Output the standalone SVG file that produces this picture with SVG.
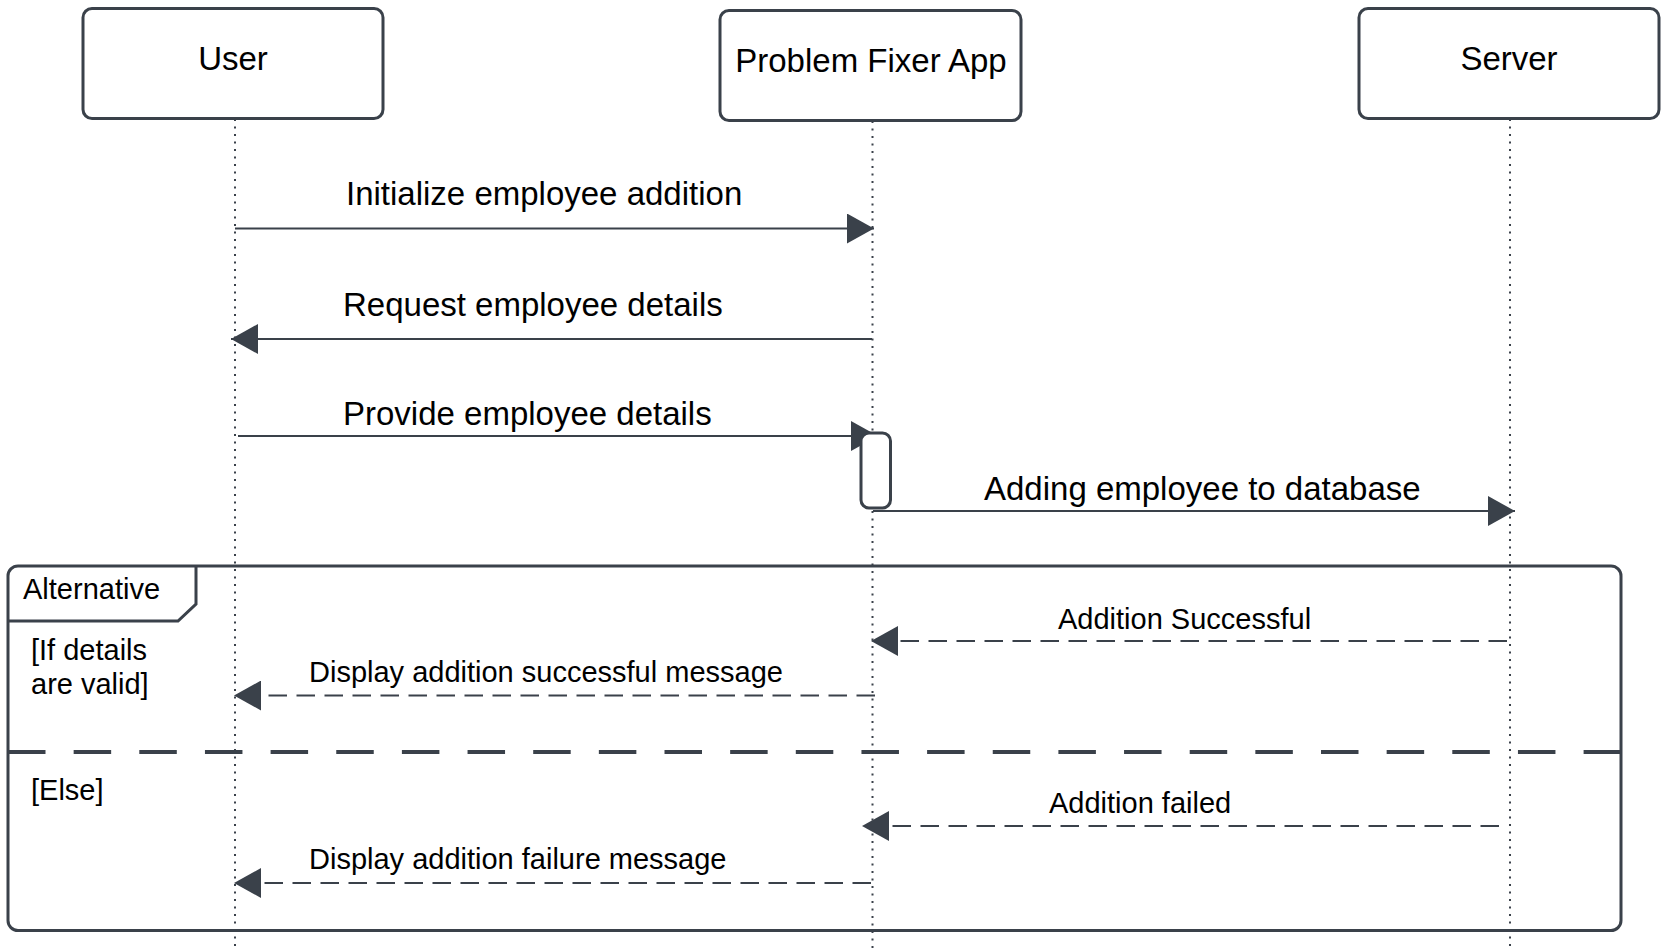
<svg xmlns="http://www.w3.org/2000/svg" width="1667" height="950" viewBox="0 0 1667 950">
<style>
  .box{fill:#ffffff;stroke:#3a414a;stroke-width:3}
  .life{stroke:#3a414a;stroke-width:2;stroke-dasharray:2 5.5;fill:none}
  .msg{stroke:#3a414a;stroke-width:2;fill:none}
  .ret{stroke:#3a414a;stroke-width:2;fill:none;stroke-dasharray:18.5 9.5}
  .frame{fill:none;stroke:#3a414a;stroke-width:3}
  .div{stroke:#3a414a;stroke-width:4;stroke-dasharray:37.5 28.15;fill:none}
  .big{font-family:"Liberation Sans",Arial,sans-serif;font-size:33px;fill:#000000}
  .small{font-family:"Liberation Sans",Arial,sans-serif;font-size:29px;fill:#000000}
</style>
<defs>
  <marker id="arrow" viewBox="0 0 27 30" refX="27" refY="15" markerWidth="27" markerHeight="30" markerUnits="userSpaceOnUse" orient="auto">
    <path d="M0,0 L27,15 L0,30 Z" fill="#3a414a"/>
  </marker>
</defs>
<rect width="1667" height="950" fill="#ffffff"/>

<g id="alt-frame">
  <rect class="frame" x="8" y="566" width="1613" height="364.5" rx="10"/>
  <path class="frame" d="M8,621 L178,621 L196,604 L196,566"/>
  <text class="small" x="23" y="599">Alternative</text>
  <text class="small" x="31" y="660">[If details</text>
  <text class="small" x="31" y="694">are valid]</text>
  <line class="div" x1="8" y1="752" x2="1621" y2="752"/>
  <text class="small" x="31" y="800">[Else]</text>
</g>

<g id="lifelines">
  <line class="life" x1="235" y1="119" x2="235" y2="950"/>
  <line class="life" x1="872.5" y1="121" x2="872.5" y2="950"/>
  <line class="life" x1="1510" y1="119" x2="1510" y2="950"/>
</g>

<g id="node-user">
  <rect class="box" x="83" y="8.5" width="300" height="110" rx="9"/>
  <text class="big" x="233" y="70" text-anchor="middle">User</text>
</g>
<g id="node-app">
  <rect class="box" x="720" y="10.5" width="301" height="110" rx="9"/>
  <text class="big" x="871" y="72" text-anchor="middle">Problem Fixer App</text>
</g>
<g id="node-server">
  <rect class="box" x="1359" y="8.5" width="300" height="110" rx="9"/>
  <text class="big" x="1509" y="70" text-anchor="middle">Server</text>
</g>

<g id="connectors">
  <line class="msg" x1="235" y1="228.5" x2="874" y2="228.5" marker-end="url(#arrow)"/>
  <text class="big" x="346" y="205">Initialize employee addition</text>

  <line class="msg" x1="872" y1="339" x2="231" y2="339" marker-end="url(#arrow)"/>
  <text class="big" x="343" y="316">Request employee details</text>

  <line class="msg" x1="238" y1="436" x2="878" y2="436" marker-end="url(#arrow)"/>
  <text class="big" x="343" y="425">Provide employee details</text>

  <line class="msg" x1="873" y1="511" x2="1515" y2="511" marker-end="url(#arrow)"/>
  <text class="big" x="984" y="500">Adding employee to database</text>

  <line class="ret" x1="1507" y1="641" x2="871" y2="641" marker-end="url(#arrow)"/>
  <text class="small" x="1058" y="629">Addition Successful</text>

  <line class="ret" x1="875" y1="695.5" x2="234" y2="695.5" marker-end="url(#arrow)"/>
  <text class="small" x="309" y="682">Display addition successful message</text>

  <line class="ret" x1="1499" y1="826" x2="862" y2="826" marker-end="url(#arrow)"/>
  <text class="small" x="1049" y="813">Addition failed</text>

  <line class="ret" x1="871" y1="883" x2="234" y2="883" marker-end="url(#arrow)"/>
  <text class="small" x="309" y="869">Display addition failure message</text>
</g>

<g id="activation">
  <rect class="box" x="861" y="433" width="29.5" height="75" rx="8"/>
</g>
</svg>
